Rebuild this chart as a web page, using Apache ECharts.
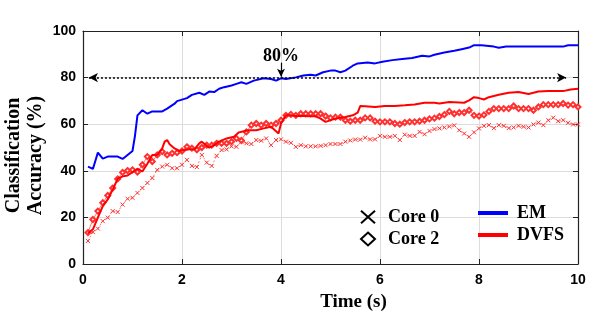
<!DOCTYPE html>
<html><head><meta charset="utf-8">
<script src="https://cdn.jsdelivr.net/npm/echarts/dist/echarts.min.js"></script>
<style>html,body{margin:0;padding:0;background:#fff}#c{width:598px;height:316px}</style>
</head><body><div id="c"></div>
<script>
// EM (blue solid line)
const emTime = [0.1,0.2,0.3,0.4,0.5,0.7,0.8,0.9,1.0,1.05,1.1,1.2,1.3,1.4,1.6,1.7,1.85,1.9,2.1,2.2,2.35,2.45,2.55,2.65,2.75,2.85,3.0,3.1,3.2,3.3,3.45,3.65,3.8,3.9,4.0,4.1,4.3,4.45,4.6,4.7,4.85,5.0,5.1,5.2,5.3,5.45,5.55,5.75,5.9,6.05,6.25,6.45,6.65,6.85,7.0,7.1,7.3,7.5,7.65,7.8,7.9,8.05,8.2,8.3,8.4,8.55,9.7,9.8,10.0];
const emAcc = [41.8,40.8,47.8,45.2,46.1,46.1,45.1,46.8,48.5,55,63.8,66,64.5,65.5,65.5,66.7,68.8,69.9,71.2,72.6,73.5,72.6,74,73.8,75.2,75.9,76.6,77.3,78,77.3,78.7,79.7,79.4,78.7,79.7,79.4,80.1,80.9,81.2,80.9,82.3,83,83,82.3,83,85.1,86.1,86.5,86.1,86.8,87.5,88,88.4,89.4,89.1,89.8,90.8,91.5,92.2,92.9,93.9,93.9,93.6,93.3,92.8,93.3,93.3,93.9,93.9];

// DVFS (red solid line)
const dvfsTime = [0.1,0.2,0.3,0.4,0.5,0.6,0.7,0.8,0.9,1.0,1.1,1.2,1.3,1.4,1.5,1.6,1.65,1.7,1.75,1.85,1.95,2.05,2.15,2.25,2.35,2.4,2.55,2.65,2.75,2.9,3.05,3.15,3.25,3.35,3.5,3.65,3.8,3.85,3.95,4.0,4.1,4.2,4.3,4.45,4.6,4.7,4.8,4.9,5.1,5.3,5.45,5.55,5.6,5.7,5.9,6.1,6.3,6.5,6.7,6.9,7.1,7.2,7.4,7.7,7.8,7.9,8.0,8.1,8.2,8.4,8.6,8.8,9.0,9.2,9.4,9.7,9.85,10.0];
const dvfsAcc = [13.2,14.9,19.9,24.8,27.7,31.9,36.5,37.6,38,39.4,40.9,39.7,43,46.8,46.8,49.6,52.5,53.2,51.4,49.6,48.5,48.9,49.2,49.2,51.8,52.5,49.9,51,52.5,53.9,54.6,56.5,57,57.4,57.4,58.2,58.9,57.9,56,60.3,63.8,63.8,63.5,63.5,63.4,63.4,62.4,61,62.4,63.1,63.8,65,67.8,67.7,67.4,67.8,67.8,68.1,68.5,69.2,69.2,68.9,69.5,69.2,70.2,71.6,71.2,70.6,71.6,72.6,73.5,73.8,73,74,74.2,74.2,74.9,75.2];

// Core samples (markers)
const coreTime = [0.1,0.2,0.3,0.4,0.5,0.6,0.7,0.8,0.9,1.0,1.1,1.2,1.3,1.4,1.5,1.6,1.7,1.8,1.9,2.0,2.1,2.2,2.3,2.4,2.5,2.6,2.7,2.8,2.9,3.0,3.1,3.2,3.3,3.4,3.5,3.6,3.7,3.8,3.9,4.0,4.1,4.2,4.3,4.4,4.5,4.6,4.7,4.8,4.9,5.0,5.1,5.2,5.3,5.4,5.5,5.6,5.7,5.8,5.9,6.0,6.1,6.2,6.3,6.4,6.5,6.6,6.7,6.8,6.9,7.0,7.1,7.2,7.3,7.4,7.5,7.6,7.7,7.8,7.9,8.0,8.1,8.2,8.3,8.4,8.5,8.6,8.7,8.8,8.9,9.0,9.1,9.2,9.3,9.4,9.5,9.6,9.7,9.8,9.9,10.0];
const core0Acc = [9.9,13.7,15.2,18.4,19.9,22.7,22.3,25.5,28,28.4,30.5,32.6,34.8,36.9,40.4,41.8,42.6,41.1,41.1,42.6,44.7,42.1,41.6,46.8,43.5,42.1,46.4,48.9,49.2,50.5,50.3,52.5,51.8,51.5,53.2,52.9,53.9,51,53.2,53.5,52.5,52,50.3,51,50.5,50.5,50.5,50.7,51,51.5,51.5,51.5,52.5,53,53.4,53.4,54.2,53.5,53.5,55,54.6,54.6,55,53.2,55.5,55,55,56.7,55.7,57.1,57.9,58.2,58.6,59,59.5,57.4,56,54.6,56.5,58.2,59.3,59.6,58.3,59.6,59.3,58.3,58.6,59.3,58.9,58.6,59.9,60.7,59.6,61.7,62.8,61.3,61.7,60.6,59.9,59.9];
const core2Acc = [13.5,19.1,22.7,26.3,29.4,32.6,36.5,39.3,40.1,40.4,39.5,42.6,46.1,44,46.8,48.2,46.8,47.5,47.8,48.5,50.3,49.7,49,50,51,51,51.8,51.8,51.8,52.5,53.9,53,56.7,59.6,60.3,59.6,60.3,59.6,60.3,61.7,63.8,64.2,63.8,64.5,64.5,64.5,64.5,64.5,63.5,62.7,63,63,61.7,61.3,61.7,61.7,62.7,62.7,61.3,61,61,61,60.3,60,60.7,61,61,61.3,61.7,62.3,62.6,63.3,64.1,65.5,64.5,65,65,66,63.8,63.5,64,65.5,66.7,66.7,66.7,66.7,67.8,66.7,66.7,66.7,66,67.4,68.4,68.4,68.4,68.4,68.9,68.2,68.4,67.4];

const xTicks = [0,2,4,6,8,10];
const yTicks = [0,20,40,60,80,100];
const refLevel = 80;
const refLabel = '80%';

const pair = (t, v) => t.map((x, i) => [x, v[i]]);
const crossPath = 'path://M0,0L10,10M10,0L0,10';
const serif = 'Liberation Serif';
const sans = 'Liberation Sans';
const axisCol = '#222';

const chart = echarts.init(document.getElementById('c'), null, {renderer: 'canvas'});
const baseX = {type:'value', min:xTicks[0], max:xTicks[xTicks.length-1], interval:2};
const baseY = {type:'value', min:yTicks[0], max:yTicks[yTicks.length-1], interval:20};
chart.setOption({
  animation: false,
  backgroundColor: '#fff',
  grid: {left: 83, right: 20, top: 31, bottom: 52, containLabel: false, outerBoundsMode: 'none'},
  xAxis: [
    Object.assign({}, baseX, {
      position: 'bottom',
      name: 'Time (s)', nameLocation: 'middle', nameGap: 29, nameMoveOverlap: false,
      nameTextStyle: {fontFamily: serif, fontWeight: 'bold', fontSize: 19, color: '#000', padding: [0,0,0,46]},
      axisLine: {onZero: false, lineStyle: {color: axisCol, width: 1.2}},
      axisTick: {inside: true, length: 5, lineStyle: {color: axisCol}},
      axisLabel: {fontFamily: sans, fontWeight: 'bold', fontSize: 14, color: '#000', margin: 9},
      splitLine: {show: true, lineStyle: {color: '#dcdcdc', width: 1}}
    }),
    Object.assign({}, baseX, {
      position: 'top',
      axisLine: {onZero: false, lineStyle: {color: axisCol, width: 1.2}},
      axisTick: {inside: true, length: 5, lineStyle: {color: axisCol}},
      axisLabel: {show: false}, splitLine: {show: false}
    })
  ],
  yAxis: [
    Object.assign({}, baseY, {
      position: 'left',
      name: 'Classification\nAccuracy (%)', nameLocation: 'middle', nameGap: 36, nameRotate: 90, nameMoveOverlap: false,
      nameTextStyle: {fontFamily: serif, fontWeight: 'bold', fontSize: 20, lineHeight: 22, color: '#000', padding: [0,16,0,0]},
      axisLine: {onZero: false, lineStyle: {color: axisCol, width: 1.2}},
      axisTick: {inside: true, length: 5, lineStyle: {color: axisCol}},
      axisLabel: {fontFamily: sans, fontWeight: 'bold', fontSize: 14, color: '#000', margin: 7},
      splitLine: {show: true, lineStyle: {color: '#dcdcdc', width: 1}}
    }),
    Object.assign({}, baseY, {
      position: 'right',
      axisLine: {onZero: false, lineStyle: {color: axisCol, width: 1.2}},
      axisTick: {inside: true, length: 5, lineStyle: {color: axisCol}},
      axisLabel: {show: false}, splitLine: {show: false}
    })
  ],
  legend: [
    {
      orient: 'vertical', left: 355, top: 203, itemGap: 4,
      itemWidth: 14, itemHeight: 13,
      textStyle: {fontFamily: serif, fontWeight: 'bold', fontSize: 18, color: '#000', padding: [0,0,0,8]},
      data: [
        {name: 'Core 0', icon: 'path://M0,0L10,9M10,0L0,9', itemStyle: {color: '#000', borderColor: '#000', borderWidth: 2}},
        {name: 'Core 2', icon: 'diamond', itemStyle: {color: '#fff', borderColor: '#000', borderWidth: 2}}
      ]
    },
    {
      orient: 'vertical', left: 473, top: 199, itemGap: 4,
      itemWidth: 30, itemHeight: 4,
      textStyle: {fontFamily: serif, fontWeight: 'bold', fontSize: 18, color: '#000', padding: [0,0,0,4]},
      data: [
        {name: 'EM', icon: 'rect'},
        {name: 'DVFS', icon: 'rect'}
      ]
    }
  ],
  series: [
    {
      name: 'Core 0', type: 'line', data: pair(coreTime, core0Acc),
      symbol: crossPath, symbolSize: 4, showSymbol: true,
      itemStyle: {color: '#ff3030', borderColor: '#ff3030', borderWidth: 1},
      lineStyle: {color: '#ff5050', width: 0.8, type: [2,2]}, z: 2
    },
    {
      name: 'Core 2', type: 'line', data: pair(coreTime, core2Acc),
      symbol: 'emptyDiamond', symbolSize: 5, showSymbol: true,
      itemStyle: {color: '#ff3030', borderColor: '#ff3030', borderWidth: 1},
      lineStyle: {color: '#ff5050', width: 0.8}, z: 2
    },
    {
      name: 'DVFS', type: 'line', data: pair(dvfsTime, dvfsAcc),
      showSymbol: false, symbol: 'none',
      itemStyle: {color: '#ff0000'}, lineStyle: {color: '#ff0000', width: 2}, z: 3,
      markLine: {
        silent: true, animation: false,
        data: [
          [
            {coord: [4, 86.4], symbol: 'none', label: {show: true, position: 'start', formatter: refLabel, fontFamily: serif, fontWeight: 'bold', fontSize: 18, color: '#000', distance: -3}},
            {coord: [4, 80.4], symbol: 'arrow', symbolSize: [6, 8]}
          ]
        ],
        lineStyle: {color: '#000', type: 'solid', width: 1.2},
        label: {show: false}
      }
    },
    {
      name: 'EM', type: 'line', data: pair(emTime, emAcc),
      showSymbol: false, symbol: 'none',
      itemStyle: {color: '#0000ff'}, lineStyle: {color: '#0000ff', width: 2}, z: 4,
      markLine: {
        silent: true, animation: false,
        data: [
          [
            {coord: [0.12, refLevel], symbol: 'arrow', symbolSize: [7, 9]},
            {coord: [9.76, refLevel], symbol: 'arrow', symbolSize: [7, 9]}
          ]
        ],
        lineStyle: {color: '#000', type: [2, 2], width: 1.5},
        label: {show: false}
      }
    }
  ]
});
</script>
</body></html>
